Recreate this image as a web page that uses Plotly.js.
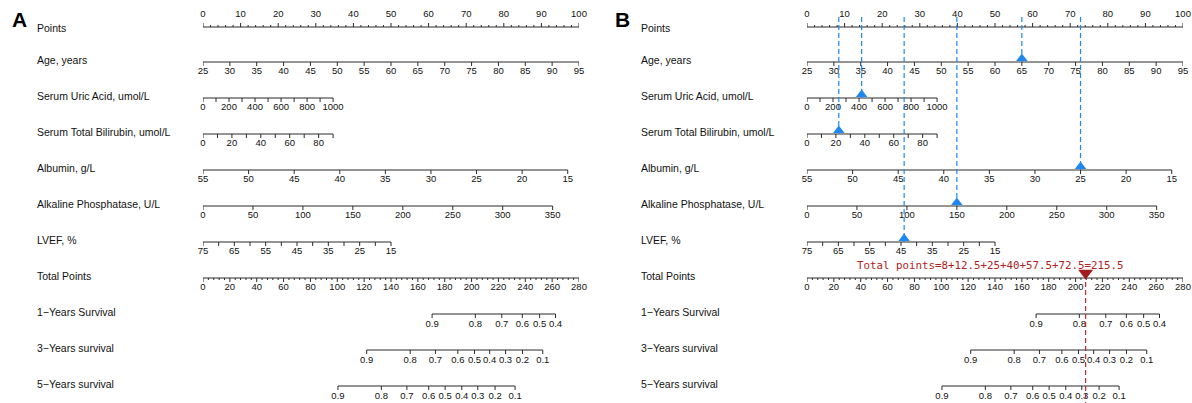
<!DOCTYPE html>
<html><head><meta charset="utf-8">
<script src="https://cdn.plot.ly/plotly-3.0.1.min.js"></script>
<style>html,body{margin:0;padding:0;background:#fff}#chart{width:1192px;height:403px}</style>
</head><body><div id="chart"></div>
<script>
// ================= DATA =================
const rowNames = ["Points","Age, years","Serum Uric Acid, umol/L","Serum Total Bilirubin, umol/L",
  "Albumin, g/L","Alkaline Phosphatase, U/L","LVEF, %","Total Points",
  "1\u2212Years Survival","3\u2212Years survival","5\u2212Years survival"];

// Points scale
const pointsLabels = [0,10,20,30,40,50,60,70,80,90,100];
const totalLabels = [0,20,40,60,80,100,120,140,160,180,200,220,240,260,280];

// Predictor axes: tick values, labelled values, value range -> points range
const ageTicks = [25,30,35,40,45,50,55,60,65,70,75,80,85,90,95];
const ageLabels = [25,30,35,40,45,50,55,60,65,70,75,80,85,90,95];
const ageRange = [25,95], agePts = [0,100];

const uricTicks = [0,100,200,300,400,500,600,700,800,900,1000];
const uricLabels = [0,200,400,600,800,1000];
const uricRange = [0,1000], uricPts = [0,34.6];

const biliTicks = [0,10,20,30,40,50,60,70,80,90];
const biliLabels = [0,20,40,60,80];
const biliRange = [0,90], biliPts = [0,34.6];

const albTicks = [55,50,45,40,35,30,25,20,15];
const albLabels = [55,50,45,40,35,30,25,20,15];
const albRange = [55,15], albPts = [0,97];

const alpTicks = [0,50,100,150,200,250,300,350];
const alpLabels = [0,50,100,150,200,250,300,350];
const alpRange = [0,350], alpPts = [0,93];

const lvefTicks = [75,70,65,60,55,50,45,40,35,30,25,20,15];
const lvefLabels = [75,65,55,45,35,25,15];
const lvefRange = [75,15], lvefPts = [0,50];

// Survival axes: probability labels and their position in total points
const surv1Labels = [0.9,0.8,0.7,0.6,0.5,0.4];
const surv1Total  = [170.6,202.8,222.5,237.8,250.7,262.5];
const surv3Labels = [0.9,0.8,0.7,0.6,0.5,0.4,0.3,0.2,0.1];
const surv3Total  = [121.9,154.3,173.1,189.8,202.2,213.5,225.3,237.9,253.0];
const surv5Labels = [0.9,0.8,0.7,0.6,0.5,0.4,0.3,0.2,0.1];
const surv5Total  = [100.5,132.8,151.8,168.1,180.3,192.7,204.6,217.5,232.4];

// Panel B example patient
const patientVars   = ["bili","uric","lvef","alp","age","alb"];
const patientValues = [22, 420, 44, 150, 65, 25];
const patientTotal  = 207.5;
const patientText   = "Total points=8+12.5+25+40+57.5+72.5=215.5";

// ================= DRAWING =================
const rowY = [27,62,98,134,170,206,242,278,314,350,386];
const W = 1192, H = 403;
const AX = '#2b2b2b';
const tickFont = {family:'Liberation Sans, Arial, sans-serif', size:9.5, color:'#111'};
const lab = v => String(v);
function lin(range, pts){ return v => pts[0] + (v-range[0])/(range[1]-range[0])*(pts[1]-pts[0]); }
const scales = {
  age: lin(ageRange,agePts), uric: lin(uricRange,uricPts), bili: lin(biliRange,biliPts),
  alb: lin(albRange,albPts), alp: lin(alpRange,alpPts), lvef: lin(lvefRange,lvefPts)
};
const varRow = {age:1, uric:2, bili:3, alb:4, alp:5, lvef:6};

const traces = [];
const annotations = [];

function row(xa, y, lineX, ticks, labels, dir, labOff){
  traces.push({type:'scatter', mode:'lines', xaxis:xa, yaxis:'y', x:lineX, y:[y,y],
    line:{color:AX, width:1}, hoverinfo:'skip'});
  const tx=[], ty=[];
  ticks.forEach(t=>{ tx.push(t.x,t.x,null); ty.push(y, y+dir*t.len, null); });
  traces.push({type:'scatter', mode:'lines', xaxis:xa, yaxis:'y', x:tx, y:ty,
    line:{color:AX, width:1}, hoverinfo:'skip'});
  traces.push({type:'scatter', mode:'text', xaxis:xa, yaxis:'y', x:labels.map(l=>l.x),
    y:labels.map(()=>y+labOff), text:labels.map(l=>l.t), textfont:tickFont,
    textposition:'middle center', cliponaxis:false, hoverinfo:'skip'});
}

const panels = [
  {xa:'x', xt:'x3', letter:'A', labelPx:35, letterPx:10},
  {xa:'x2', xt:'x4', letter:'B', labelPx:639, letterPx:613}
];

panels.forEach((p, pi)=>{
  const pt = [];
  for(let v=0; v<=100; v+=2) pt.push({x:v, len:(v%10===0)?4:2});
  row(p.xa, rowY[0], [0,100], pt, pointsLabels.map(v=>({x:v,t:lab(v)})), -1, -12);

  const defs = [
    ['age', ageTicks, ageLabels], ['uric', uricTicks, uricLabels], ['bili', biliTicks, biliLabels],
    ['alb', albTicks, albLabels], ['alp', alpTicks, alpLabels], ['lvef', lvefTicks, lvefLabels]
  ];
  defs.forEach(([k, ticks, labels])=>{
    const s = scales[k];
    const xs = ticks.map(s);
    row(p.xa, rowY[varRow[k]], [Math.min(...xs), Math.max(...xs)],
      ticks.map(v=>({x:s(v), len:4})), labels.map(v=>({x:s(v), t:lab(v)})), 1, 10);
  });

  const tt = [];
  for(let v=0; v<=280; v+=4) tt.push({x:v, len:(v%20===0)?4:2});
  row(p.xt, rowY[7], [0,280], tt, totalLabels.map(v=>({x:v,t:lab(v)})), 1, 10);

  [[surv1Labels,surv1Total,8],[surv3Labels,surv3Total,9],[surv5Labels,surv5Total,10]].forEach(([L,T,r])=>{
    row(p.xt, rowY[r], [Math.min(...T), Math.max(...T)], T.map(v=>({x:v,len:4})),
      T.map((v,i)=>({x:v,t:lab(L[i])})), 1, 11);
  });

  rowNames.forEach((n,i)=>{
    annotations.push({xref:'paper', yref:'y', x:p.labelPx/W, y:rowY[i]-(i===0?-1:2), text:n,
      showarrow:false, xanchor:'left', yanchor:'middle',
      font:{family:'Liberation Sans, Arial, sans-serif', size:10.5, color:'#111'}});
  });
  annotations.push({xref:'paper', yref:'y', x:p.letterPx/W, y:19, text:'<b>'+p.letter+'</b>',
    showarrow:false, xanchor:'left', yanchor:'middle',
    font:{family:'Liberation Sans, Arial, sans-serif', size:21, color:'#000'}});
});

const blue = '#1E88F0';
patientVars.forEach((k,i)=>{
  const x = scales[k](patientValues[i]);
  const y = rowY[varRow[k]];
  traces.push({type:'scatter', mode:'lines', xaxis:'x2', yaxis:'y', x:[x,x], y:[17,y],
    line:{color:blue, width:1.2, dash:'5px,3px'}, hoverinfo:'skip'});
  traces.push({type:'scatter', mode:'markers', xaxis:'x2', yaxis:'y', x:[x], y:[y-3.5],
    marker:{symbol:'triangle-up', size:10, color:blue}, hoverinfo:'skip', cliponaxis:false});
});
traces.push({type:'scatter', mode:'lines', xaxis:'x4', yaxis:'y', x:[patientTotal,patientTotal], y:[274,403],
  line:{color:'#C0282D', width:1.2, dash:'5px,3px'}, hoverinfo:'skip'});
traces.push({type:'scatter', mode:'markers', xaxis:'x4', yaxis:'y', x:[patientTotal], y:[273],
  marker:{symbol:'triangle-down', size:13, color:'#A31C1C'}, hoverinfo:'skip', cliponaxis:false});
annotations.push({xref:'paper', yref:'y', x:990/W, y:265, text:patientText, showarrow:false,
  xanchor:'center', yanchor:'middle',
  font:{family:'DejaVu Sans Mono, monospace', size:10.8, color:'#B22222'}});

const domA = [203/W, 579/W], domB = [807/W, 1183/W];
const hid = {visible:false, showgrid:false, zeroline:false, fixedrange:true};
const layout = {
  width:W, height:H, margin:{l:0,r:0,t:0,b:0}, showlegend:false,
  paper_bgcolor:'#fff', plot_bgcolor:'#fff',
  xaxis:  Object.assign({}, hid, {domain:domA, range:[0,100], anchor:'y'}),
  xaxis2: Object.assign({}, hid, {domain:domB, range:[0,100], anchor:'y'}),
  xaxis3: Object.assign({}, hid, {domain:domA, range:[0,280], anchor:'y', overlaying:'x'}),
  xaxis4: Object.assign({}, hid, {domain:domB, range:[0,280], anchor:'y', overlaying:'x2'}),
  yaxis:  Object.assign({}, hid, {domain:[0,1], range:[H,0]}),
  annotations: annotations
};
Plotly.newPlot('chart', traces, layout, {staticPlot:true, displayModeBar:false});
</script></body></html>
